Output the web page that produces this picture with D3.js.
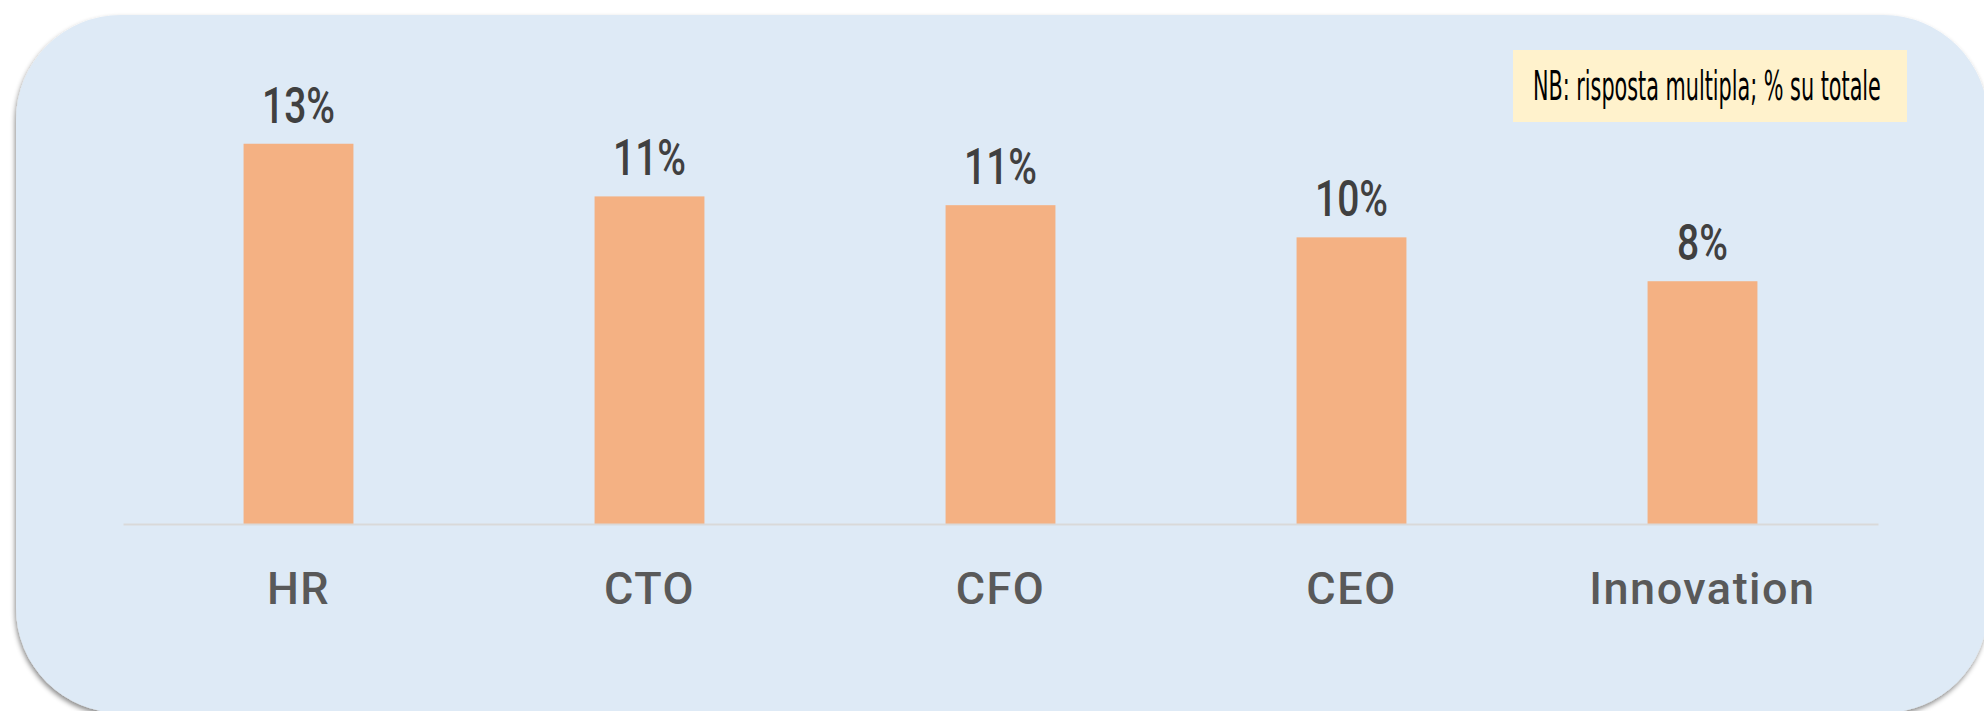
<!DOCTYPE html>
<html lang="en">
<head>
    <meta charset="utf-8">
    <title>D3: Bar Chart - Ruoli</title>
    <script type="text/javascript" src="https://d3js.org/d3.v7.min.js"></script>
    <style>
        body { margin: 0; background: #ffffff; }
    </style>
</head>
<body>
    <div id="chart"></div>

    <script type="text/javascript">

        // Data
        var categories = ["HR", "CTO", "CFO", "CEO", "Innovation"];
        var values = [0.130, 0.112, 0.109, 0.098, 0.083];
        var noteText = "NB: risposta multipla; % su totale";

        var svgWidth = 1984;
        var svgHeight = 711;

        var svg = d3.select("#chart").append("svg")
            .attr("width", svgWidth)
            .attr("height", svgHeight);

        // Drop shadow for the rounded panel
        var defs = svg.append("defs");
        var shadow = defs.append("filter")
            .attr("id", "shadow")
            .attr("x", "-5%").attr("y", "-5%")
            .attr("width", "110%").attr("height", "115%");
        shadow.append("feDropShadow")
            .attr("dx", -1).attr("dy", 3)
            .attr("stdDeviation", 2.5)
            .attr("flood-color", "#000")
            .attr("flood-opacity", 0.45);

        // Rounded background panel
        svg.append("rect")
            .attr("x", 16)
            .attr("y", 15)
            .attr("width", 1972)
            .attr("height", 698)
            .attr("rx", 105)
            .attr("ry", 105)
            .attr("fill", "#DEEAF6")
            .attr("filter", "url(#shadow)");

        // Scales
        var x = d3.scaleBand()
            .domain(categories)
            .range([123, 1878])
            .paddingInner(0.687)
            .paddingOuter(0.3435);

        var y = d3.scaleLinear()
            .domain([0, 0.16])
            .range([524, 56]);

        // Bars
        svg.selectAll("rect.bar")
            .data(values)
            .enter()
            .append("rect")
            .attr("class", "bar")
            .attr("x", function(d, i) { return x(categories[i]); })
            .attr("y", function(d) { return y(d); })
            .attr("width", x.bandwidth())
            .attr("height", function(d) { return y(0) - y(d); })
            .attr("fill", "#F4B183");

        // Baseline axis
        var xAxis = d3.axisBottom(x).tickSize(0).tickPadding(48);
        var axisG = svg.append("g")
            .attr("transform", "translate(0," + y(0) + ")")
            .call(xAxis);
        axisG.select(".domain")
            .attr("stroke", "#D9D9D9")
            .attr("stroke-width", 2);
        axisG.selectAll("text")
            .attr("dy", 0)
            .attr("y", 80)
            .style("font-family", "Roboto, 'DejaVu Sans', sans-serif")
            .style("font-weight", 500)
            .style("font-size", "45px")
            .style("letter-spacing", "1.5px")
            .style("fill", "#595959");

        // Value labels (condensed look)
        svg.selectAll("text.value")
            .data(values)
            .enter()
            .append("text")
            .attr("class", "value")
            .attr("transform", function(d, i) {
                return "translate(" + (x(categories[i]) + x.bandwidth() / 2) + "," + (y(d) - 21) + ") scale(0.78,1)";
            })
            .attr("text-anchor", "middle")
            .text(function(d) { return d3.format(".0%")(d); })
            .style("font-family", "Roboto, sans-serif")
            .style("font-weight", 500)
            .style("font-size", "50px")
            .style("fill", "#404040");

        // Note box
        svg.append("rect")
            .attr("x", 1513)
            .attr("y", 50)
            .attr("width", 394)
            .attr("height", 72)
            .attr("fill", "#FFF2CC");

        var note = svg.append("text")
            .text(noteText)
            .style("font-family", "'DejaVu Sans Condensed', 'Liberation Sans', sans-serif")
            .style("font-size", "40px")
            .style("fill", "#000");
        var noteWidth = note.node().getComputedTextLength();
        note.attr("transform", "translate(1533,100) scale(" + (348 / noteWidth) + ",1)");

    </script>
</body>
</html>
